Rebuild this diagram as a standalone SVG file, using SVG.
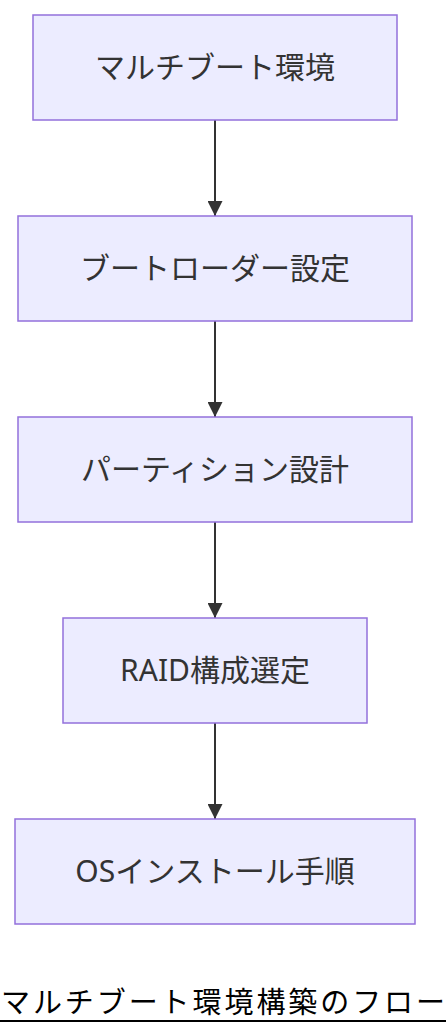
<svg xmlns="http://www.w3.org/2000/svg" width="446" height="1036" viewBox="0 0 446 1036">
<style>
.node rect{fill:#ECECFF;stroke:#9370DB;stroke-width:1.5}
.node text{font-family:"Noto Sans","Noto Sans CJK JP",sans-serif;font-size:30px;fill:#333;text-anchor:middle;dominant-baseline:central}
.edge{stroke:#333;stroke-width:2;fill:none}
.title{font-family:"Noto Sans CJK JP",sans-serif;font-size:29px;fill:#000}
</style>
<defs>
<marker id="arrow" viewBox="0 0 10 10" refX="10" refY="5" markerUnits="userSpaceOnUse" markerWidth="15" markerHeight="15" orient="auto">
<path d="M0,0 L10,5 L0,10 z" fill="#333"/>
</marker>
</defs>
<rect width="446" height="1036" fill="#fff"/>
<g id="connectors">
<line class="edge" x1="215" y1="120" x2="215" y2="216" marker-end="url(#arrow)"/>
<line class="edge" x1="215" y1="321" x2="215" y2="417" marker-end="url(#arrow)"/>
<line class="edge" x1="215" y1="522" x2="215" y2="618" marker-end="url(#arrow)"/>
<line class="edge" x1="215" y1="723" x2="215" y2="819" marker-end="url(#arrow)"/>
</g>
<g id="n1" class="node"><rect x="33" y="15" width="364" height="105"/><text x="215" y="66">マルチブート環境</text></g>
<g id="n2" class="node"><rect x="18" y="216" width="394" height="105"/><text x="215" y="267">ブートローダー設定</text></g>
<g id="n3" class="node"><rect x="18" y="417" width="394" height="105"/><text x="215" y="468">パーティション設計</text></g>
<g id="n4" class="node"><rect x="63" y="618" width="304" height="105"/><text x="215" y="669">RAID構成選定</text></g>
<g id="n5" class="node"><rect x="15" y="819" width="400" height="105"/><text x="215" y="870">OSインストール手順</text></g>
<g id="title">
<text class="title" x="1" y="1013" textLength="444" lengthAdjust="spacing">マルチブート環境構築のフロー</text>
<line x1="0" y1="1021" x2="446" y2="1021" stroke="#000" stroke-width="2"/>
</g>
</svg>
